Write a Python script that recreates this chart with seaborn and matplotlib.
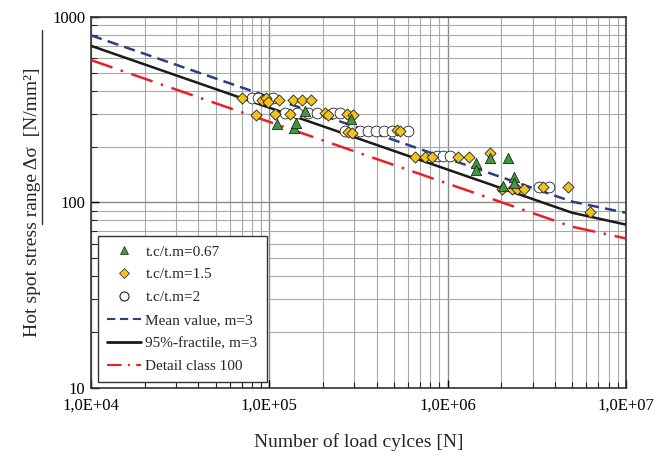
import numpy as np
import pandas as pd
import seaborn as sns
import matplotlib.pyplot as plt
from matplotlib.ticker import FixedLocator, FuncFormatter, NullFormatter, LogLocator
from matplotlib.lines import Line2D

# test data
n_067 = [1.10e5, 1.38e5, 1.41e5, 1.58e5, 2.87e5, 1.44e6, 1.44e6, 1.73e6, 2.18e6, 2.37e6, 2.37e6, 2.06e6]
s_067 = [265, 252, 269, 311, 282, 163, 150, 174, 174, 137, 128, 123]

n_15 = [7.03e4, 9.1e4, 9.6e4, 9.8e4, 1.13e5, 1.36e5, 1.53e5, 1.71e5,
        8.42e4, 1.08e5, 1.31e5, 2.05e5, 2.13e5, 2.73e5, 2.95e5,
        2.75e5, 2.91e5, 5.2e5, 5.41e5,
        6.56e5, 7.47e5, 8.18e5, 1.14e6, 1.32e6, 1.73e6,
        2.02e6, 2.30e6, 2.45e6, 2.68e6, 3.45e6, 4.73e6, 6.29e6]
s_15 = [366, 357, 366, 350, 357, 357, 357, 357,
        296, 300, 300, 302, 296, 300, 296,
        240, 236, 246, 243,
        176, 176, 176, 176, 176, 185,
        118, 118, 118, 118, 121, 121, 89]

n_2 = [8.0e4, 8.65e4, 1.05e5, 1.22e5, 1.43e5, 1.65e5, 1.85e5, 2.28e5, 2.49e5,
       2.66e5, 3.23e5, 3.58e5, 3.97e5, 4.40e5, 4.88e5, 6.0e5,
       8.73e5, 9.42e5, 1.03e6, 3.26e6, 3.71e6]
s_2 = [366, 366, 366, 302, 302, 302, 302, 302, 302,
       243, 243, 243, 243, 243, 243, 243,
       178, 178, 178, 121, 121]

# S-N curves (knee at 5E+06)
n_curve = [1e4, 5e6, 1e7]
s_mean = [795, 101, 88]
s_fract = [698, 88, 76]
s_detail = [585, 74, 64]

pts = pd.concat([
    pd.DataFrame({'N': n_067, 'S': s_067, 'set': 't.c/t.m=0.67'}),
    pd.DataFrame({'N': n_15, 'S': s_15, 'set': 't.c/t.m=1.5'}),
    pd.DataFrame({'N': n_2, 'S': s_2, 'set': 't.c/t.m=2'}),
])
curves = pd.concat([
    pd.DataFrame({'N': n_curve, 'S': s_mean, 'curve': 'Mean value, m=3'}),
    pd.DataFrame({'N': n_curve, 'S': s_fract, 'curve': '95%-fractile, m=3'}),
    pd.DataFrame({'N': n_curve, 'S': s_detail, 'curve': 'Detail class 100'}),
])

sns.set_style('ticks')
plt.rcParams['font.family'] = ['Liberation Serif', 'DejaVu Serif']

fig = plt.figure(figsize=(6.7, 4.57), dpi=100)
ax = fig.add_axes([0.136, 0.151, 0.798, 0.812])
ax.set_xscale('log')
ax.set_yscale('log')

line_colors = {'Mean value, m=3': '#2b3f84', '95%-fractile, m=3': '#1a1a1a', 'Detail class 100': '#e8202a'}
line_dashes = {'Mean value, m=3': (4.5, 2.5), '95%-fractile, m=3': '', 'Detail class 100': (9, 3.5, 1, 3.5)}
sns.lineplot(data=curves, x='N', y='S', hue='curve', style='curve', palette=line_colors,
             dashes=line_dashes, linewidth=1.8, legend=False, ax=ax, zorder=3)

marker_map = {'t.c/t.m=0.67': '^', 't.c/t.m=1.5': 'D', 't.c/t.m=2': 'o'}
color_map = {'t.c/t.m=0.67': '#3f9a3c', 't.c/t.m=1.5': '#f2c21f', 't.c/t.m=2': 'white'}
size_map = {'t.c/t.m=0.67': 55, 't.c/t.m=1.5': 32, 't.c/t.m=2': 60}
for name in ['t.c/t.m=2', 't.c/t.m=1.5', 't.c/t.m=0.67']:
    sub = pts[pts['set'] == name]
    sns.scatterplot(data=sub, x='N', y='S', marker=marker_map[name], color=color_map[name],
                    s=size_map[name], edgecolor='#222222', linewidth=0.6, ax=ax, zorder=4)

ax.set_xlim(1e4, 1e7)
ax.set_ylim(10, 1000)
ax.xaxis.set_major_locator(FixedLocator([1e4, 1e5, 1e6, 1e7]))
ax.xaxis.set_major_formatter(FuncFormatter(lambda v, p: '1,0E+%02d' % round(np.log10(v))))
ax.yaxis.set_major_locator(FixedLocator([10, 100, 1000]))
ax.yaxis.set_major_formatter(FuncFormatter(lambda v, p: '%d' % v))
ax.xaxis.set_minor_locator(LogLocator(base=10, subs=np.arange(2, 10)))
ax.yaxis.set_minor_locator(LogLocator(base=10, subs=np.arange(2, 10)))
ax.xaxis.set_minor_formatter(NullFormatter())
ax.yaxis.set_minor_formatter(NullFormatter())
ax.tick_params(which='major', direction='in', length=6, width=1, labelsize=12, colors='black')
ax.tick_params(axis='x', which='major', pad=7)
ax.tick_params(axis='y', which='major', pad=4)
ax.tick_params(which='minor', direction='in', length=4, width=0.8)
ax.grid(which='major', color='#8a8a8a', linewidth=1.0)
ax.grid(which='minor', color='#a8a8a8', linewidth=0.8)
ax.set_axisbelow(True)
for sp in ax.spines.values():
    sp.set_color('#333333')
    sp.set_linewidth(1.2)

ax.set_xlabel('Number of load cylces [N]', fontsize=14, labelpad=14)
ax.set_ylabel('Hot spot stress range Δσ  [N/mm²]', fontsize=14, labelpad=8)

handles = [
    Line2D([], [], ls='', marker='^', color='#3f9a3c', mec='#222222', mew=0.5, ms=6),
    Line2D([], [], ls='', marker='D', color='#f2c21f', mec='#222222', mew=0.5, ms=5),
    Line2D([], [], ls='', marker='o', color='white', mec='#222222', mew=0.8, ms=6.5),
    Line2D([], [], color='#2b3f84', ls=(0, (4, 2.2)), lw=1.5),
    Line2D([], [], color='#1a1a1a', ls='-', lw=2),
    Line2D([], [], color='#e8202a', ls=(0, (7, 3, 1, 3)), lw=1.5),
]
labels = ['t.c/t.m=0.67', 't.c/t.m=1.5', 't.c/t.m=2', 'Mean value, m=3', '95%-fractile, m=3', 'Detail class 100']
leg = ax.legend(handles, labels, loc='lower left', bbox_to_anchor=(0.013, 0.016), borderaxespad=0,
                fontsize=11, frameon=True, fancybox=False, framealpha=1, edgecolor='#333333',
                handlelength=2.2, handletextpad=0.3, labelspacing=0.6, borderpad=0.6)
leg.get_frame().set_linewidth(1.0)

# stray rule left of the y label
fig.add_artist(Line2D([0.063, 0.063], [0.51, 0.935], color='#333333', lw=1.0, transform=fig.transFigure))

fig.savefig('out.png', dpi=100)
